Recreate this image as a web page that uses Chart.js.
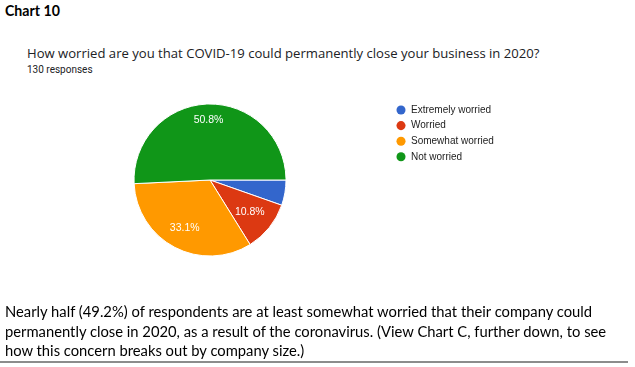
<!DOCTYPE html>
<html>
<head>
<meta charset="utf-8">
<script src="https://cdn.jsdelivr.net/npm/chart.js@4.4.1/dist/chart.umd.min.js"></script>
<style>
  html, body { margin: 0; padding: 0; background: #fff; }
  body { width: 635px; height: 367px; position: relative; overflow: hidden; }
  .t { position: absolute; white-space: nowrap; }
  #heading { left: 5px; top: 2px; font: bold 15px Lato, sans-serif; color: #000; }
  #question { left: 27px; top: 44px; font: 13px "Open Sans", sans-serif; color: #202124; }
  #responses { left: 27px; top: 63.5px; font: 10px Roboto, sans-serif; color: #202124; }
  #body { left: 5px; top: 302px; font: 17px Lato, sans-serif; color: #000; line-height: 19.5px; }
  #rule { position: absolute; left: 0; top: 361px; width: 628px; height: 2px; background: #8c8c8c; }
  #wrap { position: absolute; left: 0; top: 0; width: 635px; height: 367px; }
</style>
</head>
<body>
<div class="t" id="heading">Chart 10</div>
<div class="t" id="question">How worried are you that COVID-19 could permanently close your business in 2020?</div>
<div class="t" id="responses">130 responses</div>
<div id="wrap"><canvas id="c" width="635" height="367"></canvas></div>
<div class="t" id="body">Nearly half (49.2%) of respondents are at least somewhat worried that their company could<br>permanently close in 2020, as a result of the coronavirus. (View Chart C, further down, to see<br>how this concern breaks out by company size.)</div>
<div id="rule"></div>
<script>
// ---- data ----
const categories = ["Extremely worried", "Worried", "Somewhat worried", "Not worried"];
const responses = [7, 14, 43, 66];   // out of 130 responses
const sliceColors = ["#3366cc", "#dc3912", "#ff9900", "#109618"];

// ---- fit text widths to reference ----
function fitWidth(id, target) {
  const el = document.getElementById(id);
  const fs = parseFloat(getComputedStyle(el).fontSize);
  const w = el.getBoundingClientRect().width;
  el.style.fontSize = (fs * target / w) + 'px';
}
fitWidth('question', 513);
fitWidth('heading', 55);
fitWidth('body', 602);

// ---- layout numbers ----
const legendFont = 10, legendPad = 5.6, boxW = 10;
const cx = 210, cy = 180, R = 76;
const itemX = 401 - boxW / 2;
const legendLeft = itemX - legendPad;
const mctx = document.createElement('canvas').getContext('2d');
mctx.font = legendFont + 'px "Liberation Sans", Arial, sans-serif';
const maxTextW = Math.max(...categories.map(s => mctx.measureText(s).width));
const legendWidth = legendPad + (boxW + legendFont / 2 + maxTextW) + 10;
const padRight = 635 - (legendLeft + legendWidth);
const padLeft = 2 * cx - legendLeft;
const padTop = 110 - legendPad - legendFont / 2;
const padBottom = 367 - (2 * cy - padTop);

const total = responses.reduce((a, b) => a + b, 0);

const pctLabels = {
  id: 'pctLabels',
  afterDatasetsDraw(chart) {
    const ctx = chart.ctx;
    const meta = chart.getDatasetMeta(0);
    ctx.save();
    ctx.font = '10.5px "Liberation Sans", Arial, sans-serif';
    ctx.fillStyle = '#ffffff';
    ctx.textAlign = 'center';
    ctx.textBaseline = 'middle';
    meta.data.forEach((arc, i) => {
      const v = chart.data.datasets[0].data[i];
      const frac = v / total;
      if (frac < 0.08) return;
      const p = arc.getProps(['x', 'y', 'startAngle', 'endAngle', 'outerRadius'], true);
      const mid = (p.startAngle + p.endAngle) / 2;
      const txt = (frac * 100).toFixed(1) + '%';
      const hw = ctx.measureText(txt).width / 2, hh = 5.5;
      const c = Math.cos(mid), s = Math.sin(mid);
      const d = 0.87 * p.outerRadius - (hw * Math.abs(c) + hh * Math.abs(s));
      ctx.fillText(txt, p.x + c * d, p.y + s * d);
    });
    ctx.restore();
  }
};

const baseGen = Chart.overrides.pie.plugins.legend.labels.generateLabels;

new Chart(document.getElementById('c'), {
  type: 'pie',
  data: {
    labels: categories,
    datasets: [{
      data: responses,
      backgroundColor: sliceColors,
      borderColor: '#ffffff',
      borderWidth: 1,
      radius: R
    }]
  },
  options: {
    responsive: false,
    animation: false,
    rotation: 90,
    layout: { padding: { left: padLeft, right: padRight, top: padTop, bottom: padBottom } },
    plugins: {
      tooltip: { enabled: false },
      legend: {
        position: 'right',
        align: 'start',
        labels: {
          usePointStyle: true,
          pointStyle: 'circle',
          boxWidth: boxW,
          boxHeight: 6.4,
          padding: legendPad,
          color: '#222222',
          font: { family: '"Liberation Sans", Arial, sans-serif', size: legendFont },
          generateLabels(chart) {
            return baseGen(chart).map(l => Object.assign(l, { lineWidth: 0, strokeStyle: l.fillStyle }));
          }
        }
      }
    }
  },
  plugins: [pctLabels]
});
</script>
</body>
</html>
